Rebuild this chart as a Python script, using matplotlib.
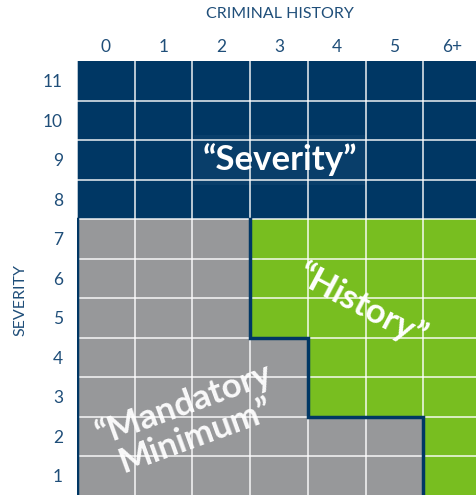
import numpy as np
import matplotlib
matplotlib.use("Agg")
from matplotlib import pyplot as plt
from matplotlib.colors import ListedColormap

plt.rcParams['font.family'] = ['Lato', 'DejaVu Sans']

# 数据
history_labels = ["0", "1", "2", "3", "4", "5", "6+"]
severity_levels = [1, 2, 3, 4, 5, 6, 7, 8, 9, 10, 11]
severity_min = 8                                   # 8及以上为Severity区
history_start = [6, 6, 4, 4, 3, 3, 3]              # 严重度1..7时绿色区起始列

navy = "#003764"
gray = "#97989a"
green = "#78be20"
label_color = "#1f4e79"

# 0=gray, 1=green, 2=navy
grid = np.zeros((len(severity_levels), len(history_labels)))
for i, s in enumerate(severity_levels):
    if s >= severity_min:
        grid[i, :] = 2
    else:
        grid[i, history_start[i]:] = 1

fig = plt.figure(figsize=(4.77, 4.95), dpi=100)
W, H = 477, 495
cw = 57.7
rh = 39.5
ax = fig.add_axes([77 / W, 1 - (61 + 11 * rh) / H, 7 * cw / W, 11 * rh / H])

ax.pcolormesh(np.arange(len(history_labels) + 1) - 0.5,
              np.array(severity_levels + [12]) - 0.5,
              grid, cmap=ListedColormap([gray, green, navy]), vmin=0, vmax=2)

# 白色网格线
for x in np.arange(len(history_labels) + 1) - 0.5:
    ax.axvline(x, color="white", lw=1.2, alpha=0.85)
for y in np.array(severity_levels) - 0.5:
    ax.axhline(y, color="white", lw=1.2, alpha=0.85)

# 阶梯边界线
xs, ys = [], []
for i in range(severity_min - 2, -1, -1):
    xs += [history_start[i] - 0.5, history_start[i] - 0.5]
    ys += [severity_levels[i] + 0.5, severity_levels[i] - 0.5]
ax.plot(xs, ys, color=navy, lw=2.5, solid_joinstyle="miter")
ax.plot([-0.5, -0.5], [0.5, severity_min - 0.5], color=navy, lw=2.5)

ax.set_xlim(-0.5, len(history_labels) - 0.5)
ax.set_ylim(0.5, 11.5)
ax.xaxis.tick_top()
ax.set_xticks(range(len(history_labels)))
ax.set_xticklabels(history_labels)
ax.set_yticks(severity_levels)
ax.tick_params(length=0, labelsize=12.5, labelcolor=label_color)
ax.tick_params(axis="x", pad=4)
ax.tick_params(axis="y", pad=10)
for sp in ax.spines.values():
    sp.set_visible(False)

fig.text(280 / W, 1 - 14 / H, "CRIMINAL HISTORY", ha="center", va="center",
         fontsize=11.5, color=label_color)
fig.text(20 / W, 1 - 300 / H, "SEVERITY", ha="center", va="center",
         fontsize=11.5, color=label_color, rotation=90)

ax.text(3.02, 9.0, "\u201cSeverity\u201d", ha="center", va="center", fontsize=25,
        fontweight="bold", color="white",
        bbox=dict(boxstyle="square,pad=0.25", fc="white", alpha=0.04, ec="none"))
ax.text(4.44, 5.3, "\u201cHistory\u201d", ha="center", va="center", fontsize=25,
        fontweight="bold", color="white", rotation=-28)
ax.text(1.45, 2.42, "\u201cMandatory\nMinimum\u201d", ha="center", va="center",
        fontsize=25, fontweight="bold", color="white", rotation=20,
        linespacing=1.05, alpha=0.95)

fig.savefig("out.png", dpi=100)
